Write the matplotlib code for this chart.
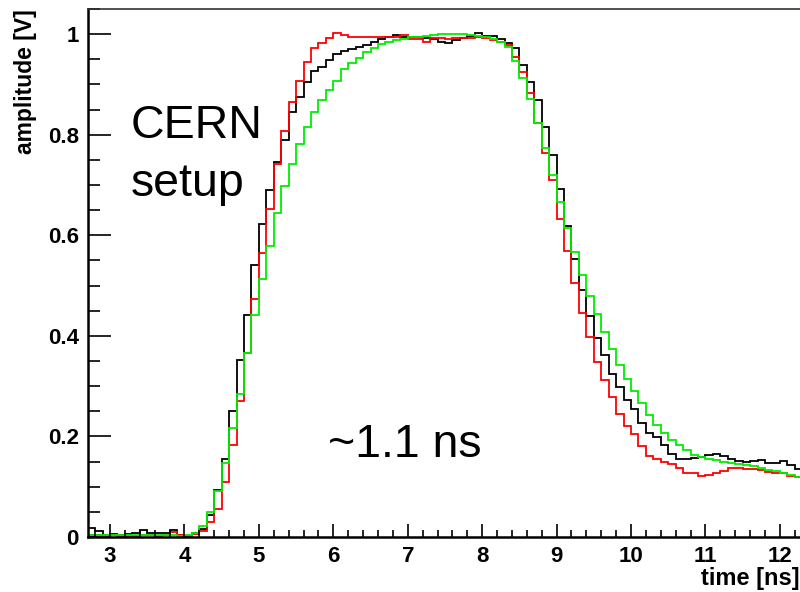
import numpy as np
import matplotlib
matplotlib.use("Agg")
import matplotlib.pyplot as plt
from matplotlib.ticker import MultipleLocator, FuncFormatter

# ---- data (histograms, 0.1 ns bins starting at 2.7 ns) ----
bin_start = 2.7
bin_width = 0.1

black = [
    0.017, 0.011, 0.004, 0.005, 0.004, 0.005, 0.008, 0.014, 0.008, 0.007,   # 2.7-3.6
    0.007, 0.014, 0.004, 0.002, 0.007, 0.015, 0.044, 0.094, 0.155, 0.251,   # 3.7-4.6
    0.352, 0.441, 0.541, 0.622, 0.691, 0.745, 0.790, 0.846, 0.875, 0.905,   # 4.7-5.6
    0.926, 0.935, 0.949, 0.961, 0.966, 0.971, 0.975, 0.978, 0.985, 0.990,   # 5.7-6.6
    0.995, 0.998, 0.995, 0.995, 0.994, 0.993, 0.990, 0.984, 0.982, 0.989,   # 6.7-7.6
    0.993, 0.996, 1.002, 0.997, 0.996, 0.990, 0.983, 0.972, 0.938, 0.905,   # 7.7-8.6
    0.869, 0.816, 0.760, 0.692, 0.619, 0.552, 0.491, 0.440, 0.395, 0.362,   # 8.7-9.6
    0.325, 0.298, 0.272, 0.254, 0.226, 0.207, 0.198, 0.183, 0.166, 0.156,   # 9.7-10.6
    0.156, 0.158, 0.159, 0.163, 0.165, 0.162, 0.156, 0.152, 0.150, 0.151,   # 10.7-11.6
    0.153, 0.147, 0.148, 0.152, 0.143, 0.136,                               # 11.7-12.2
]

red = [
    0.003, 0.003, 0.003, 0.003, 0.002, 0.002, 0.002, 0.003, 0.003, 0.002,
    0.004, 0.009, 0.004, 0.002, 0.006, 0.011, 0.030, 0.055, 0.110, 0.183,
    0.271, 0.366, 0.474, 0.564, 0.653, 0.741, 0.807, 0.866, 0.907, 0.944,
    0.972, 0.983, 0.993, 1.002, 0.998, 0.995, 0.995, 0.995, 0.995, 0.995,
    0.995, 0.995, 0.999, 0.991, 0.991, 0.985, 0.993, 0.993, 0.990, 0.992,
    0.992, 0.993, 0.995, 0.992, 0.988, 0.985, 0.979, 0.955, 0.924, 0.882,
    0.824, 0.763, 0.710, 0.632, 0.569, 0.506, 0.446, 0.397, 0.349, 0.312,
    0.279, 0.245, 0.220, 0.205, 0.180, 0.162, 0.156, 0.150, 0.146, 0.137,
    0.127, 0.128, 0.122, 0.123, 0.128, 0.131, 0.138, 0.138, 0.136, 0.136,
    0.133, 0.130, 0.128, 0.127, 0.121, 0.119,
]

green = [
    0.004, 0.003, 0.003, 0.003, 0.003, 0.003, 0.003, 0.003, 0.003, 0.003,
    0.003, 0.003, 0.002, 0.004, 0.008, 0.022, 0.050, 0.092, 0.148, 0.216,
    0.284, 0.365, 0.441, 0.514, 0.579, 0.645, 0.698, 0.742, 0.782, 0.816,
    0.845, 0.869, 0.888, 0.907, 0.930, 0.943, 0.953, 0.965, 0.973, 0.980,
    0.985, 0.988, 0.991, 0.994, 0.995, 0.997, 0.998, 1.000, 1.000, 1.001,
    1.000, 0.998, 0.996, 0.995, 0.990, 0.985, 0.975, 0.947, 0.913, 0.871,
    0.824, 0.773, 0.720, 0.667, 0.614, 0.567, 0.521, 0.480, 0.444, 0.407,
    0.373, 0.343, 0.315, 0.291, 0.266, 0.243, 0.223, 0.206, 0.193, 0.183,
    0.173, 0.164, 0.160, 0.156, 0.154, 0.150, 0.148, 0.146, 0.143, 0.141,
    0.138, 0.133, 0.131, 0.127, 0.123, 0.120,
]

x_ticks = [3, 4, 5, 6, 7, 8, 9, 10, 11, 12]
y_ticks = [0, 0.2, 0.4, 0.6, 0.8, 1.0]
x_label = "time [ns]"
y_label = "amplitude [V]"
annot_setup = ["CERN", "setup"]
annot_rise = "~1.1 ns"

# ---- figure ----
plt.rcParams["font.family"] = ["Liberation Sans", "DejaVu Sans"]

fig = plt.figure(figsize=(8.0, 5.92), dpi=100)
ax = fig.add_axes([88 / 800, (592 - 537) / 592, 712 / 800, 528 / 592])

n = len(black)
edges = bin_start + bin_width * np.arange(n + 1)

for vals, col in ((black, "#000000"), (red, "#ff0000"), (green, "#00ee00")):
    ax.stairs(vals, edges, color=col, linewidth=1.3, baseline=None)

ax.set_xlim(2.704, 12.27)
ax.set_ylim(0, 1.05)

ax.xaxis.set_minor_locator(MultipleLocator(0.2))
ax.yaxis.set_minor_locator(MultipleLocator(0.05))
ax.set_xticks(x_ticks)
ax.set_yticks(y_ticks)
ax.yaxis.set_major_formatter(FuncFormatter(lambda v, p: ("%g" % round(v, 2))))

ax.tick_params(axis="y", which="major", direction="in", length=16.5, width=1.2,
               pad=6.5, labelsize=16)
ax.tick_params(axis="y", which="minor", direction="in", length=8.5, width=1.2)
ax.tick_params(axis="x", which="major", direction="in", length=9.5, width=1.2,
               pad=6.5, labelsize=16)
ax.tick_params(axis="x", which="minor", direction="in", length=5, width=1.2)
for lab in ax.get_xticklabels() + ax.get_yticklabels():
    lab.set_fontweight("bold")

for s in ("left", "bottom"):
    ax.spines[s].set_linewidth(1.8)
    ax.spines[s].set_color("#000000")
ax.spines["top"].set_linewidth(1.2)
ax.spines["top"].set_color("#333333")
ax.spines["right"].set_visible(False)

ax.set_xlabel(x_label, loc="right", fontsize=17, fontweight="bold")
ax.xaxis.set_label_coords(1.0, -0.056)
ax.set_ylabel(y_label, loc="top", fontsize=16.5, fontweight="bold")
ax.yaxis.set_label_coords(-0.072, 1.0)

ax.text(0.0604, 0.7557, annot_setup[0], transform=ax.transAxes,
        fontsize=33.5, ha="left", va="baseline")
ax.text(0.0604, 0.6458, annot_setup[1], transform=ax.transAxes,
        fontsize=33.5, ha="left", va="baseline")
ax.text(0.337, 0.1515, annot_rise, transform=ax.transAxes,
        fontsize=33.5, ha="left", va="baseline")

fig.savefig("out.png", dpi=100)
